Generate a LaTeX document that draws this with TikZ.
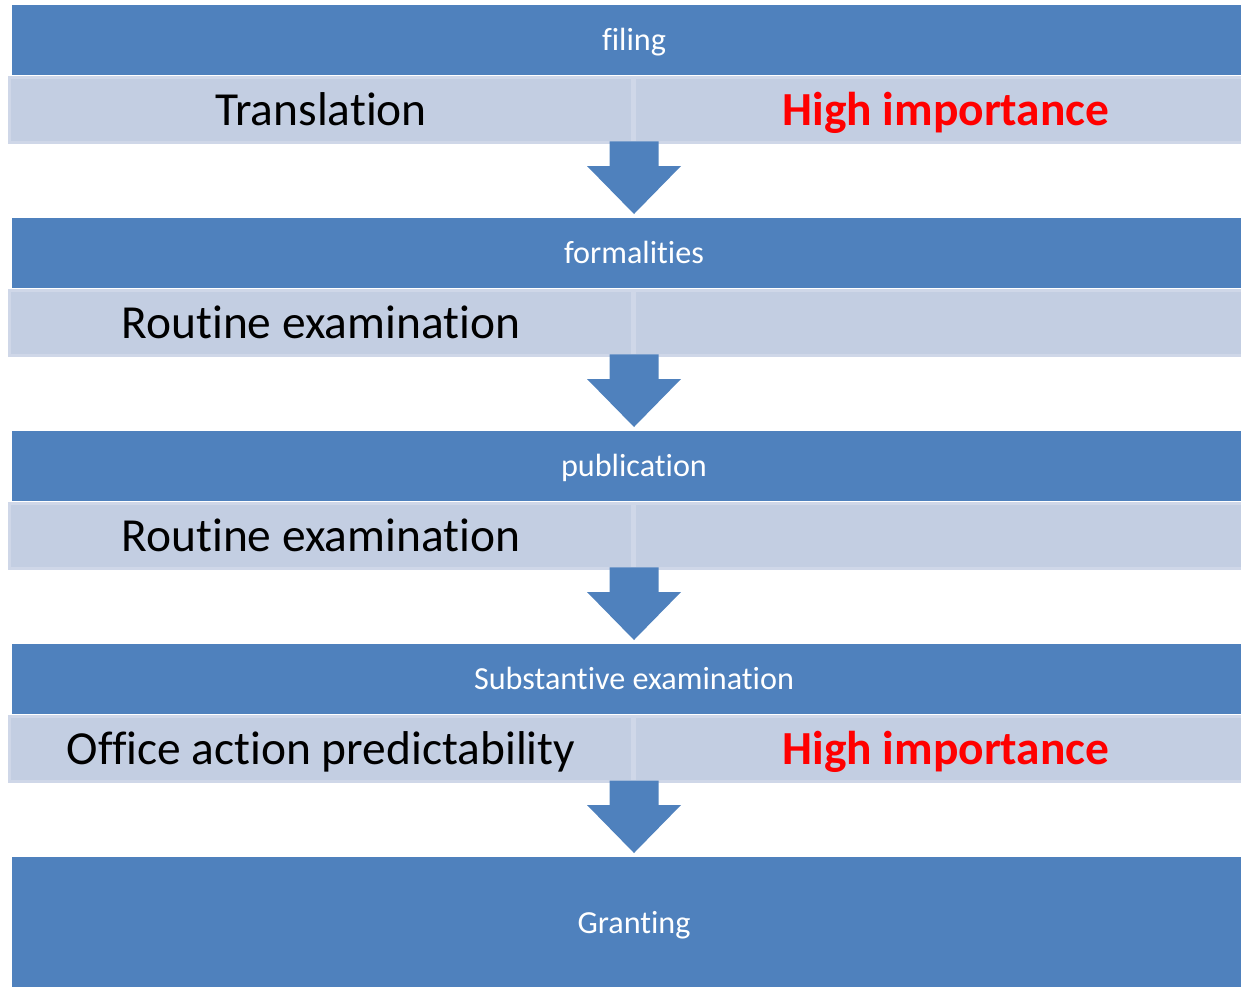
\documentclass[tikz,border=0pt]{standalone}
\usepackage{fontspec}
\setmainfont[Ligatures=NoCommon]{Carlito}
\usetikzlibrary{calc}
\definecolor{stepblue}{RGB}{79,129,189}
\definecolor{notefill}{RGB}{195,206,226}
\definecolor{noteedge}{RGB}{207,215,232}
\definecolor{alert}{RGB}{255,0,0}

\begin{document}
\begin{tikzpicture}[x=0.02cm,y=-0.02cm,
  stage/.style={fill=stepblue,text=white,inner sep=0,outer sep=0,minimum width=24.88cm,minimum height=1.4cm,
    font=\fontsize{18.3}{22}\selectfont,text height=15.5pt,text depth=3.4pt},
  cell/.style={fill=notefill,draw=noteedge,line width=1.7pt,inner sep=0,outer sep=0,minimum width=12.45cm,minimum height=1.3cm,
    font=\fontsize{27}{32}\selectfont,text height=23.8pt,text depth=5.7pt},
  hot/.style={cell,text=alert,font=\fontsize{27}{32}\selectfont\bfseries}]
\useasboundingbox (0,0) rectangle (1241,987);
\clip (0,0) rectangle (1241,987);
\foreach \i/\y/\txt in {1/40/filing, 2/253/formalities, 3/466/publication, 4/679/Substantive examination}
  \node[stage] (s\i) at (634,\y) {\txt};
\node[stage,minimum height=2.64cm] (s5) at (634,923) {Granting};
\foreach \i/\y/\lft/\rgt in {1/110/Translation/High importance, 2/323/Routine examination/{}, 3/536/Routine examination/{}, 4/749/Office action predictability/High importance}{
  \node[cell] (l\i) at (321,\y) {\lft};
  \node[hot] (r\i) at (946,\y) {\rgt};}
% block arrows between the steps
\foreach \i/\j in {1/2,2/3,3/4,4/5}
  \fill[stepblue] ($(s\j.north |- l\i.south)+(-24.5,-1)$) -- ($(s\j.north)+(-24.5,-52)$) -- ($(s\j.north)+(-47,-52)$)
    -- ($(s\j.north)+(0,-4)$) -- ($(s\j.north)+(47,-52)$) -- ($(s\j.north)+(24.5,-52)$) -- ($(s\j.north |- l\i.south)+(24.5,-1)$) -- cycle;
\end{tikzpicture}
\end{document}
